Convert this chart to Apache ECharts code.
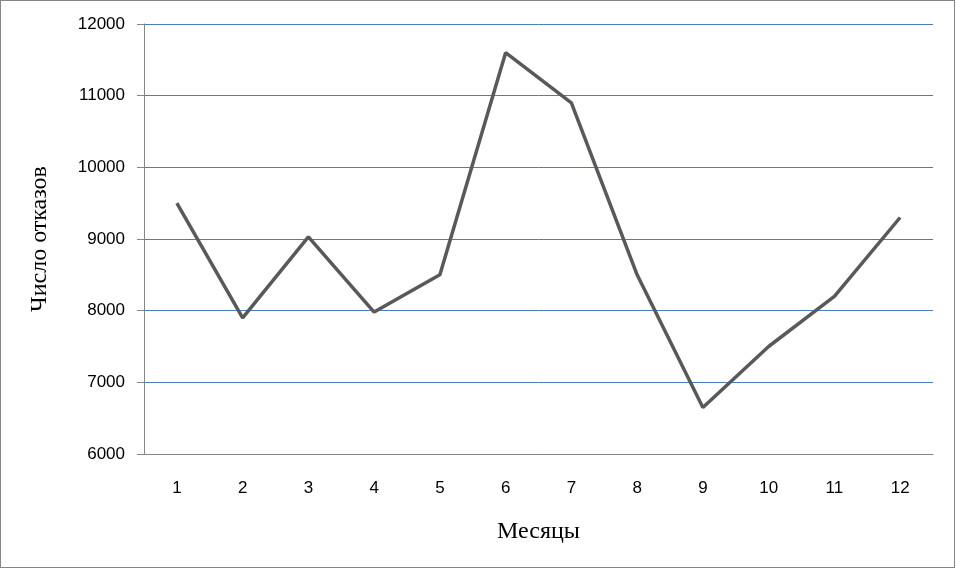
<!DOCTYPE html>
<html><head><meta charset="utf-8">
<script src="https://cdn.jsdelivr.net/npm/echarts@6/dist/echarts.min.js"></script>
<style>
html,body{margin:0;padding:0;background:#fff;}
#frame{position:absolute;left:0;top:0;width:953px;height:566px;border:1.5px solid #868686;box-sizing:content-box;}
#c{position:absolute;left:0;top:0;width:956px;height:570px;}
</style></head>
<body>
<div id="frame"></div>
<div id="c"></div>
<script>
const months = ['1','2','3','4','5','6','7','8','9','10','11','12'];
const failures = [9500, 7900, 9030, 7980, 8500, 11600, 10900, 8500, 6650, 7500, 8200, 9300];
const yTitle = 'Число отказов';
const xTitle = 'Месяцы';

const chart = echarts.init(document.getElementById('c'), null, {renderer:'canvas'});
chart.setOption({
  animation:false,
  grid:{left:144, top:24, width:789, height:430, containLabel:false},
  xAxis:{
    type:'category', data:months, boundaryGap:true,
    name:xTitle, nameLocation:'middle', nameGap:66,
    nameTextStyle:{fontFamily:'Liberation Serif', fontSize:24, color:'#000'},
    axisLine:{lineStyle:{color:'#868686', width:1}},
    axisTick:{show:false},
    axisLabel:{fontFamily:'Liberation Sans', fontSize:17, color:'#000', margin:26},
    splitLine:{show:false}
  },
  yAxis:{
    type:'value', min:6000, max:12000, interval:1000,
    name:yTitle, nameLocation:'middle', nameGap:92, nameRotate:90,
    nameTextStyle:{fontFamily:'Liberation Serif', fontSize:24, color:'#000'},
    axisLine:{show:true, lineStyle:{color:'#868686', width:1}},
    axisTick:{show:true, length:7, lineStyle:{color:'#868686'}},
    axisLabel:{fontFamily:'Liberation Sans', fontSize:17, color:'#000', margin:19,
      formatter:function(v){return String(v);}},
    splitLine:{show:true, lineStyle:{color:'#4A7EBB', width:1}}
  },
  series:[{
    type:'line', data:failures, symbol:'none',
    lineStyle:{color:'#595959', width:3.5}
  }]
});
</script>
</body></html>
